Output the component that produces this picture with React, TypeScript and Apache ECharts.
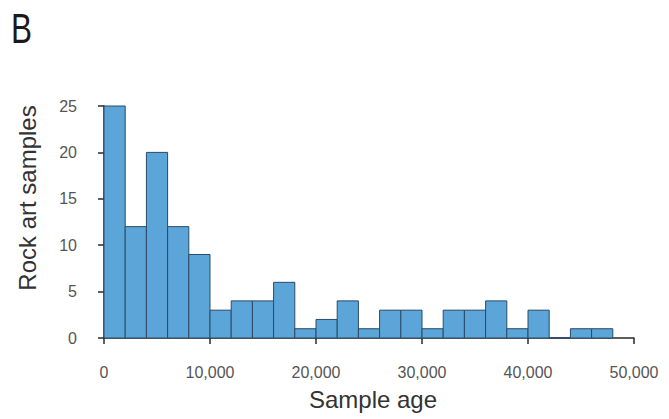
import React, { useEffect, useRef } from "react";
import * as echarts from "echarts";

const binStarts = [0, 2000, 4000, 6000, 8000, 10000, 12000, 14000, 16000, 18000, 20000, 22000, 24000, 26000, 28000, 30000, 32000, 34000, 36000, 38000, 40000, 42000, 44000, 46000];
const binWidth = 2000;
const counts = [25, 12, 20, 12, 9, 3, 4, 4, 6, 1, 2, 4, 1, 3, 3, 1, 3, 3, 4, 1, 3, 0, 1, 1];
const yTicks = [0, 5, 10, 15, 20, 25];
const xTicks = [0, 10000, 20000, 30000, 40000, 50000];

const FONT = "Liberation Sans, Arial, Helvetica, sans-serif";

export default function App() {
  const ref = useRef<HTMLDivElement>(null);
  useEffect(() => {
    if (!ref.current) return;
    const chart = echarts.init(ref.current, undefined, { renderer: "svg" });
    const data = binStarts.map((s, i) => [s, s + binWidth, counts[i]]);
    chart.setOption({
      animation: false,
      backgroundColor: "#ffffff",
      textStyle: { fontFamily: FONT },
      grid: { left: 104, right: 35, top: 106, bottom: 81 },
      graphic: [
        {
          type: "text",
          x: 11,
          y: 7,
          scaleX: 0.75,
          style: { text: "B", fontSize: 42, fill: "#1a1a1a", fontFamily: FONT },
        },
        {
          type: "text",
          x: 27,
          y: 198,
          rotation: Math.PI / 2,
          style: {
            text: "Rock art samples",
            fontSize: 24,
            fill: "#333",
            fontFamily: FONT,
            align: "center",
            verticalAlign: "middle",
          },
        },
      ],
      xAxis: {
        type: "value",
        min: xTicks[0],
        max: xTicks[xTicks.length - 1],
        interval: 10000,
        offset: 11,
        axisLine: { show: true, lineStyle: { color: "#2a2a2a", width: 1.5 } },
        axisTick: { show: true, length: 6, inside: false, lineStyle: { color: "#2a2a2a", width: 1.5 } },
        splitLine: { show: false },
        axisLabel: {
          color: "#555",
          fontSize: 16,
          margin: 15,
          formatter: (v: number) => v.toLocaleString("en-US"),
        },
        name: "Sample age",
        nameLocation: "middle",
        nameGap: 38,
        nameTextStyle: { fontSize: 24, color: "#333", padding: [0, 0, 0, 8] },
      },
      yAxis: {
        type: "value",
        min: yTicks[0],
        max: yTicks[yTicks.length - 1],
        interval: 5,
        offset: 13,
        axisLine: { show: true, lineStyle: { color: "#2a2a2a", width: 1.5 } },
        axisTick: { show: true, length: 6, lineStyle: { color: "#2a2a2a", width: 1.5 } },
        splitLine: { show: false },
        axisLabel: { color: "#555", fontSize: 16, margin: 14 },
      },
      series: [
        {
          type: "custom",
          data,
          renderItem: (params: any, api: any) => {
            const x0 = api.value(0);
            const x1 = api.value(1);
            const y = api.value(2);
            const p0 = api.coord([x0, 0]);
            const p1 = api.coord([x1, y]);
            return {
              type: "rect",
              shape: { x: p0[0], y: p1[1], width: p1[0] - p0[0], height: p0[1] - p1[1] },
              style: { fill: "#5ba5d9", stroke: "#2b4a66", lineWidth: 1 },
            };
          },
          encode: { x: [0, 1], y: 2 },
        },
      ],
    });
    return () => chart.dispose();
  }, []);
  return (
    <div
      ref={ref}
      style={{ position: "absolute", left: 0, top: 0, width: 669, height: 419 }}
    />
  );
}
